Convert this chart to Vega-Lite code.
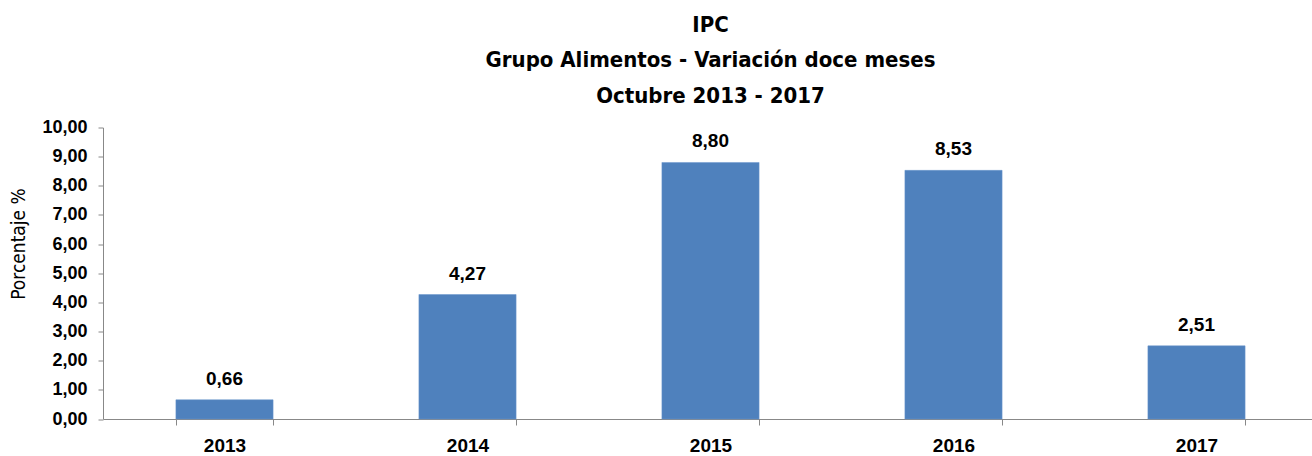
{
  "$schema": "https://vega.github.io/schema/vega-lite/v6.json",
  "autosize": {"type": "none"},
  "padding": {"left": 103, "top": 127.5, "right": 0, "bottom": 37},
  "width": 1215,
  "height": 291.5,
  "background": "white",
  "title": {
    "text": ["IPC", "Grupo Alimentos - Variación doce meses", "Octubre 2013 - 2017"],
    "font": "DejaVu Sans Condensed",
    "fontSize": 22,
    "fontWeight": "bold",
    "color": "#000000",
    "lineHeight": 35.5,
    "anchor": "middle",
    "offset": 11
  },
  "data": {
    "values": [
      {"anio": "2013", "v": 0.66},
      {"anio": "2014", "v": 4.27},
      {"anio": "2015", "v": 8.80},
      {"anio": "2016", "v": 8.53},
      {"anio": "2017", "v": 2.51}
    ]
  },
  "transform": [{"calculate": "replace(format(datum.v, '.2f'), '.', ',')", "as": "lab"}],
  "encoding": {
    "x": {
      "field": "anio", "type": "nominal", "sort": null,
      "scale": {"paddingInner": 0.6, "paddingOuter": 0.3},
      "axis": {
        "title": null, "labelAngle": 0, "tickBand": "extent",
        "labelFont": "Liberation Sans", "labelFontSize": 19, "labelFontWeight": "bold",
        "labelColor": "#000000", "labelPadding": 11,
        "domainColor": "#888888", "tickColor": "#888888", "tickSize": 6,
        "grid": false
      }
    },
    "y": {
      "field": "v", "type": "quantitative",
      "scale": {"domain": [0, 10], "nice": false},
      "axis": {
        "title": "Porcentaje %",
        "titleFont": "DejaVu Sans Condensed", "titleFontSize": 19, "titleFontWeight": "normal",
        "titleColor": "#000000",
        "titleAngle": -90, "titleAlign": "center", "titleBaseline": "middle",
        "titleX": -85, "titleY": 116,
        "values": [0, 1, 2, 3, 4, 5, 6, 7, 8, 9, 10],
        "labelExpr": "replace(format(datum.value, '.2f'), '.', ',')",
        "labelFont": "Liberation Sans", "labelFontSize": 18, "labelFontWeight": "bold",
        "labelColor": "#000000", "labelPadding": 11,
        "domainColor": "#888888", "tickColor": "#888888", "tickSize": 5,
        "grid": false
      }
    }
  },
  "layer": [
    {"mark": {"type": "bar", "color": "#4F81BD", "stroke": "#6B96CC", "strokeWidth": 0.5}},
    {
      "mark": {"type": "text", "baseline": "alphabetic", "dy": -15, "font": "Liberation Sans", "fontSize": 19, "fontWeight": "bold", "color": "#000000"},
      "encoding": {"text": {"field": "lab"}}
    }
  ],
  "config": {"view": {"stroke": null}}
}
